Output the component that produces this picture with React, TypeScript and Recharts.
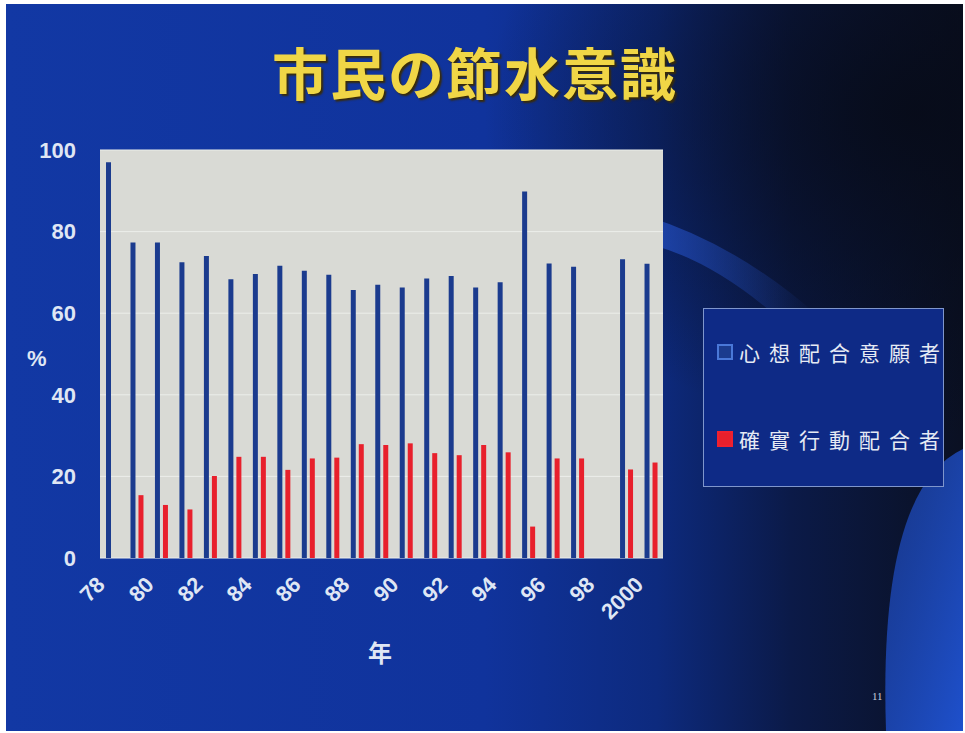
import React from 'react';
import { BarChart, Bar, XAxis, YAxis, CartesianGrid, Legend } from 'recharts';

// Survey years, 1978 - 2000 (1998 has no survey)
const years = [
  '78', '79', '80', '81', '82', '83', '84', '85', '86', '87', '88', '89',
  '90', '91', '92', '93', '94', '95', '96', '97', '98', '99', '2000'
];

// 心想配合意願者 (%)
const willing = [
  97, 77.3, 77.3, 72.5, 74, 68.3, 69.6, 71.6, 70.4, 69.4, 65.7, 67,
  66.3, 68.5, 69.1, 66.3, 67.6, 89.8, 72.2, 71.4, null, 73.2, 72.1
];

// 確實行動配合者 (%)
const acting = [
  null, 15.4, 13, 11.9, 20.1, 24.8, 24.8, 21.6, 24.4, 24.6, 27.9, 27.7,
  28.1, 25.7, 25.2, 27.7, 25.9, 7.7, 24.4, 24.4, null, 21.7, 23.4
];

const yTicks = [0, 20, 40, 60, 80, 100];

const data = years.map((y, i) => ({ year: y, willing: willing[i], acting: acting[i] }));

const labelColor = '#dfe6f4';

const YearTick = (props: any) => {
  const { x, y, payload } = props;
  return (
    <text
      transform={`translate(${x - 6},${y + 26}) rotate(-45)`}
      textAnchor="end"
      fill={labelColor}
      fontSize={22}
      fontWeight="bold"
      fontFamily="'Liberation Sans', Arial, sans-serif"
    >
      {payload.value}
    </text>
  );
};

const LegendBox = (props: any) => {
  const { payload } = props;
  return (
    <div
      style={{
        width: 241,
        height: 179,
        border: '1px solid #7f96cc',
        background: '#0e2a86',
        boxSizing: 'border-box',
        paddingTop: 22,
        paddingLeft: 13,
      }}
    >
      {(payload || []).map((entry: any, i: number) => (
        <div
          key={entry.value}
          style={{ display: 'flex', alignItems: 'center', height: 42, marginBottom: i === 0 ? 45 : 0 }}
        >
          <span
            style={{
              display: 'inline-block',
              flexShrink: 0,
              width: 12,
              height: 12,
              background: entry.color,
              border: i === 0 ? '2px solid #4a78d8' : '2px solid #f02030',
              marginRight: 6,
            }}
          />
          <span
            style={{
              color: '#e6eaf4',
              fontSize: 21,
              letterSpacing: 9,
              fontFamily: "'Noto Sans CJK TC', sans-serif",
              whiteSpace: 'nowrap',
            }}
          >
            {entry.value}
          </span>
        </div>
      ))}
    </div>
  );
};

const App: React.FC = () => {
  return (
    <div style={{ position: 'relative', width: 965, height: 733, background: '#ffffff', overflow: 'hidden' }}>
      <style>{'body{margin:0}'}</style>

      {/* slide background */}
      <svg width={957} height={727} style={{ position: 'absolute', left: 6, top: 4 }}>
        <defs>
          <linearGradient id="bgH" x1="0" y1="0" x2="1" y2="0">
            <stop offset="0" stopColor="#1238a4" />
            <stop offset="0.5" stopColor="#10339c" />
            <stop offset="0.68" stopColor="#0d2a7e" />
            <stop offset="0.82" stopColor="#0b1a48" />
            <stop offset="1" stopColor="#0a1022" />
          </linearGradient>
          <radialGradient id="topDark" cx="0.95" cy="0.15" r="0.45">
            <stop offset="0" stopColor="#070b18" stopOpacity="0.9" />
            <stop offset="1" stopColor="#070b18" stopOpacity="0" />
          </radialGradient>
          <linearGradient id="streak" x1="0" y1="0" x2="1" y2="0">
            <stop offset="0" stopColor="#2450c4" stopOpacity="0.75" />
            <stop offset="1" stopColor="#2450c4" stopOpacity="0" />
          </linearGradient>
          <linearGradient id="arc" x1="0" y1="0" x2="1" y2="1">
            <stop offset="0" stopColor="#1f4cc0" stopOpacity="0.6" />
            <stop offset="1" stopColor="#1e50cc" stopOpacity="1" />
          </linearGradient>
        </defs>
        <rect width={957} height={727} fill="url(#bgH)" />
        <rect width={957} height={727} fill="url(#topDark)" />
        {/* faint streak behind the plot corner */}
        <path d="M 640 212 Q 730 240 810 310 L 795 335 Q 720 262 650 242 Z" fill="url(#streak)" />
        {/* bright lower-right arc */}
        <path d="M 957 445 Q 872 485 880 727 L 957 727 Z" fill="url(#arc)" />
      </svg>

      <div
        style={{
          position: 'absolute',
          left: 0,
          width: 950,
          top: 36,
          textAlign: 'center',
          fontFamily: "'Noto Sans CJK JP', sans-serif",
          fontWeight: 700,
          fontSize: 56,
          letterSpacing: 2,
          color: '#f0d646',
          textShadow: '2px 2px 2px #3a2c06',
          lineHeight: '70px',
        }}
      >
        市民の節水意識
      </div>

      <div style={{ position: 'absolute', left: 0, top: 0 }}>
        <BarChart
          width={965}
          height={620}
          data={data}
          margin={{ top: 150, right: 61, bottom: 0, left: 0 }}
          barSize={5}
          barGap={3}
          style={{ overflow: 'visible' }}
        >
          <CartesianGrid vertical={false} fill="#d9dad5" stroke="#eceeea" strokeWidth={1} />
          <XAxis
            dataKey="year"
            interval={1}
            height={62}
            axisLine={false}
            tickLine={false}
            tickSize={0}
            tick={<YearTick />}
          />
          <YAxis
            width={100}
            domain={[0, 100]}
            ticks={yTicks}
            axisLine={false}
            tickLine={false}
            tickSize={0}
            tickMargin={24}
            tick={{ fill: labelColor, fontSize: 22, fontWeight: 'bold', fontFamily: "'Liberation Sans', Arial, sans-serif" }}
          />
          <Legend
            layout="vertical"
            align="right"
            verticalAlign="middle"
            content={<LegendBox />}
            wrapperStyle={{ position: 'absolute', left: 703, top: 308, width: 241 }}
          />
          <Bar dataKey="willing" name="心想配合意願者" fill="#1b3b8e" isAnimationActive={false} />
          <Bar dataKey="acting" name="確實行動配合者" fill="#e8202c" isAnimationActive={false} />
        </BarChart>
      </div>

      <div
        style={{
          position: 'absolute',
          left: 27,
          top: 346,
          color: labelColor,
          fontSize: 22,
          fontWeight: 'bold',
          fontFamily: "'Liberation Sans', Arial, sans-serif",
        }}
      >
        %
      </div>
      <div
        style={{
          position: 'absolute',
          left: 368,
          top: 634,
          color: labelColor,
          fontSize: 24,
          fontWeight: 'bold',
          fontFamily: "'Noto Sans CJK JP', sans-serif",
        }}
      >
        年
      </div>
      <div
        style={{
          position: 'absolute',
          left: 872,
          top: 690,
          color: '#c8cfdc',
          fontSize: 11,
          fontFamily: "'Liberation Serif', serif",
        }}
      >
        11
      </div>
    </div>
  );
};

export default App;
